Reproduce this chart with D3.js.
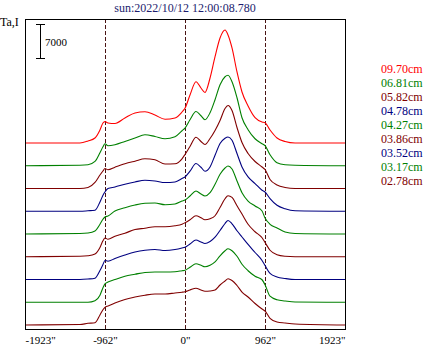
<!DOCTYPE html>
<html>
<head>
<meta charset="utf-8">
<script src="https://cdn.jsdelivr.net/npm/d3@7"></script>
<style>
  html, body { margin: 0; padding: 0; background: #fff; }
  svg { display: block; }
  text { font-family: "Liberation Serif", "Times New Roman", serif; }
</style>
</head>
<body>
<svg id="chart" width="423" height="347"></svg>
<script>
// ---------- data ----------
const title = "sun:2022/10/12 12:00:08.780";
const yLabel = "Ta,I";
const scaleBarValue = 7000;
const xTickValues = [-1923, -962, 0, 962, 1923];
const xTickLabels = ['-1923"', '-962"', '0"', '962"', '1923"'];
const dashedAt = [-962, 0, 962];

// sample positions (arcsec)
const xPos = [-1923,-1263,-1166,-1082,-1022,-986,-962,-926,-842,-722,-601,-481,-361,-240,-120,-36,0,60,132,192,240,301,361,421,481,517,565,625,685,758,842,926,962,1022,1106,1203,1323,1923];

// series, bottom (index 0) to top
const seriesNames = ["02.78cm","03.17cm","03.52cm","03.86cm","04.27cm","04.78cm","05.82cm","06.81cm","09.70cm"];
const seriesColors = ["#800000","#008000","#000080","#800000","#008000","#000080","#800000","#008000","#ff0000"];

const s0278 = [0,100,350,470,2060,3150,3640,3910,4530,5270,5760,6140,6380,6380,6590,6750,6860,7210,7560,7210,6940,7000,7210,8240,9060,9530,9160,8130,6790,5760,4430,3290,2880,1380,620,410,210,0];
const s0317 = [0,0,0,310,1440,2990,3770,4160,4670,5350,5760,6140,6240,6240,6280,6490,6590,7210,7930,7620,7310,7620,8300,9570,10600,11010,10600,9470,7820,6490,5350,4630,3600,1240,510,270,60,0];
const s0352 = [0,0,100,270,1850,3090,3910,3770,4320,5040,5660,6030,6180,5970,6180,6490,6650,7310,8130,7720,7410,7820,8710,10090,11530,12150,11470,10030,8750,7210,5560,3910,2880,1240,510,210,0,0];
const s0386 = [0,100,210,560,1910,3290,3850,3600,4220,4840,5620,5870,6180,6180,6380,6690,7000,7620,8440,8030,7620,7820,8440,10150,11940,12560,12210,10500,8790,6690,5150,3910,2940,1340,410,100,0,0];
const s0427 = [0,100,210,620,2000,3030,3500,3710,4740,5410,5970,6320,6380,6030,6180,6790,7000,7820,8850,8240,7820,8500,10230,12290,13590,14000,13380,10910,8500,6790,5760,4740,3290,2000,1240,410,100,0];
const s0478 = [0,0,100,210,1910,3290,3970,4670,5000,5560,6030,6380,6240,5910,6030,6730,7060,8240,9820,9060,8240,9120,11530,13940,15030,15300,14620,11880,9120,7060,5700,4320,3970,2610,1240,510,100,0];
const s0582 = [0,0,210,1240,2780,3600,4120,3850,4390,5090,5620,6110,5910,5040,5090,6110,7000,8650,10560,9680,9060,10290,11940,14000,16470,17090,16060,12560,9470,7210,5560,4430,3910,1850,720,210,0,0];
const s0681 = [0,100,210,890,2680,3910,4530,4120,4320,5000,5700,6380,6030,5560,5970,7210,7760,9470,11180,10290,9470,10910,13590,16680,18320,18630,17290,14000,9880,7410,5560,4530,4120,2260,620,210,100,0];
const s0970 = [0,0,410,1030,2680,4120,4390,4120,4010,5150,6180,6440,5760,4880,5150,6380,7140,9880,12620,11320,10400,13380,17770,21620,23260,22240,19560,14620,10500,7620,5210,4320,4180,2680,1030,310,0,0];
const seriesValues = [s0278, s0317, s0352, s0386, s0427, s0478, s0582, s0681, s0970];
const offsetStep = 4684; // vertical stacking offset between traces (intensity units)

// ---------- layout ----------
const svg = d3.select("#chart");
const plot = { left: 25, right: 345, top: 19, bottom: 329 };

const x = d3.scaleLinear().domain([-1923, 1923]).range([plot.left, plot.right]);
const y = d3.scaleLinear().domain([-823.5, 63000]).range([plot.bottom, plot.top]);

svg.append("rect").attr("width", 423).attr("height", 347).attr("fill", "#fff");

// title
svg.append("text")
  .attr("x", (plot.left + plot.right) / 2).attr("y", 11.5)
  .attr("text-anchor", "middle").attr("font-size", 12).attr("fill", "#1c1c6e")
  .text(title);

// y label
svg.append("text").attr("x", 0).attr("y", 26).attr("font-size", 12).attr("fill", "#000").text(yLabel);

// clip
svg.append("clipPath").attr("id", "clip").append("rect")
  .attr("x", plot.left).attr("y", plot.top)
  .attr("width", plot.right - plot.left).attr("height", plot.bottom - plot.top);

const g = svg.append("g").attr("clip-path", "url(#clip)");

// dashed guides
g.selectAll("line.guide").data(dashedAt).join("line")
  .attr("class", "guide")
  .attr("x1", d => Math.round(x(d)) + 0.5).attr("x2", d => Math.round(x(d)) + 0.5)
  .attr("y1", plot.top).attr("y2", plot.bottom)
  .attr("stroke", "#4a1414").attr("stroke-width", 1)
  .attr("stroke-dasharray", "4,2").attr("shape-rendering", "crispEdges");

// curves
const line = d3.line()
  .x(d => x(d[0]))
  .y(d => y(d[1]))
  .curve(d3.curveMonotoneX);

seriesValues.forEach((vals, i) => {
  const pts = xPos.map((xv, k) => [xv, vals[k] + i * offsetStep]);
  g.append("path")
    .attr("d", line(pts))
    .attr("fill", "none")
    .attr("stroke", seriesColors[i])
    .attr("stroke-width", 1.1);
});

// plot frame
svg.append("rect")
  .attr("x", plot.left + 0.5).attr("y", plot.top + 0.5)
  .attr("width", plot.right - plot.left).attr("height", plot.bottom - plot.top)
  .attr("fill", "none").attr("stroke", "#000").attr("stroke-width", 1)
  .attr("shape-rendering", "crispEdges");

// x axis labels
const xAxis = d3.axisBottom(x).tickValues(xTickValues)
  .tickFormat((d, i) => xTickLabels[i]).tickSize(0).tickPadding(0);
const ax = svg.append("g").attr("transform", `translate(0,${plot.bottom})`).call(xAxis);
ax.select(".domain").remove();
ax.selectAll("text")
  .attr("font-family", "Liberation Serif, serif")
  .attr("font-size", 11).attr("fill", "#000")
  .attr("dy", null).attr("y", 15)
  .attr("text-anchor", (d, i) => i === 0 ? "start" : (i === xTickValues.length - 1 ? "end" : "middle"));

// scale bar
const barTop = 24;
const barBottom = barTop + (y(0) - y(scaleBarValue));
const barX = 40.5;
const sb = svg.append("g").attr("stroke", "#000").attr("stroke-width", 1).attr("shape-rendering", "crispEdges");
sb.append("line").attr("x1", barX).attr("x2", barX).attr("y1", barTop).attr("y2", barBottom);
sb.append("line").attr("x1", 36).attr("x2", 45).attr("y1", barTop + 0.5).attr("y2", barTop + 0.5);
sb.append("line").attr("x1", 36).attr("x2", 45).attr("y1", barBottom + 0.5).attr("y2", barBottom + 0.5);
svg.append("text").attr("x", 45).attr("y", (barTop + barBottom) / 2 + 4.5)
  .attr("font-family", "Liberation Sans, Arial, sans-serif").attr("font-size", 11).attr("fill", "#000")
  .text(String(scaleBarValue));

// legend (top to bottom = highest trace first)
const legendOrder = d3.range(seriesNames.length).reverse();
svg.append("g").selectAll("text").data(legendOrder).join("text")
  .attr("x", 381).attr("y", (d, k) => 72.5 + k * 14.1)
  .attr("font-size", 12)
  .attr("fill", d => seriesColors[d])
  .text(d => seriesNames[d]);
</script>
</body>
</html>
